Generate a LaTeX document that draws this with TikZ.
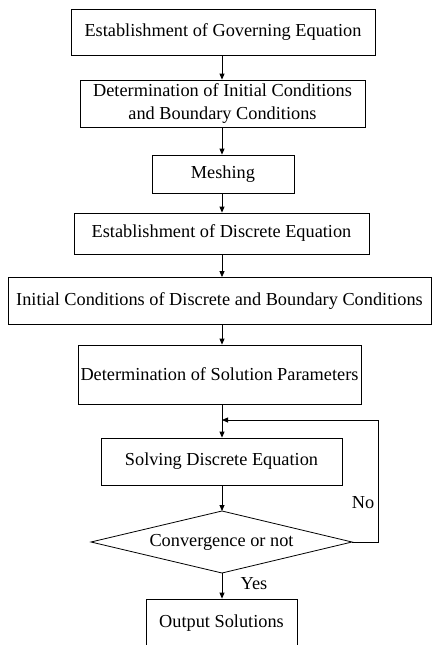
\documentclass[tikz,border=0pt]{standalone}
\usepackage{fontspec}
\setmainfont{Liberation Serif}
\usetikzlibrary{arrows.meta}
\begin{document}
\begin{tikzpicture}[x=1pt,y=-1pt,
  font=\fontsize{18.3}{21}\selectfont,
  box/.style={draw,line width=0.8pt,inner sep=0pt,align=center},
  arr/.style={line width=0.8pt,-{Triangle[length=6pt,width=5pt]}},
  ln/.style={line width=0.8pt}]
\useasboundingbox (0,0) rectangle (432,645);
\begin{scope}
\clip (0,0) rectangle (432,645);
\node[box,minimum width=304pt,minimum height=46pt] (b1) at (223,32) {Establishment of Governing Equation};
\node[box,minimum width=285pt,minimum height=47pt] (b2) at (222.5,103.5) {Determination of Initial Conditions\\[1.5pt]and Boundary Conditions};
\node[box,minimum width=142pt,minimum height=38pt] (b3) at (223,174) {Meshing};
\node[box,minimum width=295pt,minimum height=41pt] (b4) at (221.5,233.5) {Establishment of Discrete Equation};
\node[box,minimum width=423pt,minimum height=47pt] (b5) at (219.5,301) {Initial Conditions of Discrete and Boundary Conditions};
\node[box,minimum width=283pt,minimum height=59pt] (b6) at (219.5,374.5) {Determination of Solution Parameters};
\node[box,minimum width=241pt,minimum height=47pt] (b7) at (221.5,461.5) {Solving Discrete Equation};
\node[box,minimum width=151pt,minimum height=48pt] (b8) at (221.5,623) {Output Solutions};
\end{scope}
\node (d) at (221.5,542) {Convergence or not};
\coordinate (dN) at (222,511);
\coordinate (dS) at (222,573);
\coordinate (dE) at (352,542);
\coordinate (dW) at (91,542);
\draw[ln] (dN) -- (dE) -- (dS) -- (dW) -- cycle;
\coordinate (join) at (222,420);
\coordinate (rt) at (378,542);
\draw[arr] (b1.south -| 222,0) -- (b2.north -| 222,0);
\draw[arr] (b2.south -| 222,0) -- (b3.north -| 222,0);
\draw[arr] (b3.south -| 222,0) -- (b4.north -| 222,0);
\draw[arr] (b4.south -| 222,0) -- (b5.north -| 222,0);
\draw[arr] (b5.south -| 222,0) -- (b6.north -| 222,0);
\draw[arr] (b6.south -| 222,0) -- (b7.north -| 222,0);
\draw[arr] (b7.south -| 222,0) -- (dN);
\draw[arr] (dS) -- (b8.north -| 222,0);
\draw[arr] (dE) -- (rt) |- (join);
\node (no) at (363,503) {No};
\node (yes) at (254,584) {Yes};
\end{tikzpicture}
\end{document}
